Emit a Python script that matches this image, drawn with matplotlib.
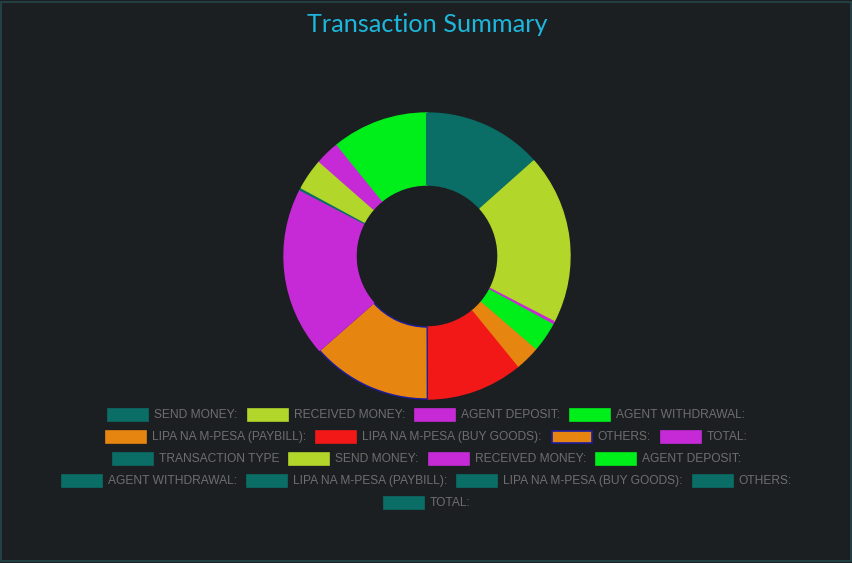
import matplotlib
matplotlib.use("Agg")
import matplotlib.pyplot as plt
from matplotlib.patches import Rectangle

# data (slice sizes, degrees-ish)
labels = ["SEND MONEY:", "RECEIVED MONEY:", "AGENT DEPOSIT:", "AGENT WITHDRAWAL:",
          "LIPA NA M-PESA (PAYBILL):", "LIPA NA M-PESA (BUY GOODS):", "OTHERS:", "TOTAL:",
          "TRANSACTION TYPE", "SEND MONEY:", "RECEIVED MONEY:", "AGENT DEPOSIT:",
          "AGENT WITHDRAWAL:", "LIPA NA M-PESA (PAYBILL):", "LIPA NA M-PESA (BUY GOODS):",
          "OTHERS:", "TOTAL:"]
values = [48.3, 68.9, 1.3, 12.2, 10.0, 39.0, 48.8, 68.7, 1.0, 12.8, 9.8, 38.9,
          0, 0, 0, 0, 0]

teal, yg, mag, grn, org, red = "#0a6e66", "#b2d62a", "#c62ad6", "#00ee1a", "#e68510", "#f21818"
colors = [teal, yg, mag, grn, org, red, org, mag,
          teal, yg, mag, grn, teal, teal, teal, teal, teal]
edges = list(colors)
edges[6] = "#1c1ca0"

bg = "#1c1f22"
W, H = 853, 563
fig = plt.figure(figsize=(W / 100, H / 100), dpi=100, facecolor=bg)
ax = fig.add_axes([0, 0, 1, 1])
ax.set_facecolor(bg)

cx, cy, R = 427, H - 256, 143
ax.pie(values, colors=colors, startangle=90, counterclock=False,
       center=(cx, cy), radius=R,
       wedgeprops=dict(width=72, linewidth=1, edgecolor=None))
for w, e in zip(ax.patches, edges):
    w.set_edgecolor(e)
ax.set_xlim(0, W)
ax.set_ylim(0, H)
ax.set_aspect("auto")
ax.axis("off")

# frame
ax.add_patch(Rectangle((1.5, 2.5), W - 3, H - 4, fill=False, edgecolor="#24474c", lw=1.2))

ax.text(cx, H - 25, "Transaction Summary", color="#1db7dc", fontsize=18.2,
        family="Lato", ha="center", va="center")

# legend, rows centred like the chart library does
rows = [[0, 1, 2, 3], [4, 5, 6, 7], [8, 9, 10, 11], [12, 13, 14, 15], [16]]
row_y = [415, 437, 459, 481, 503]
box_w, box_h, pad, gap = 40, 12, 6, 10
r = fig.canvas.get_renderer()
for idxs, yy in zip(rows, row_y):
    texts = []
    for i in idxs:
        t = ax.text(0, H - yy, labels[i], color="#6e6e6e", fontsize=8.65,
                    family="Liberation Sans", ha="left", va="center")
        texts.append(t)
    widths = [t.get_window_extent(renderer=r).width for t in texts]
    total = sum(box_w + pad + w for w in widths) + gap * (len(idxs) - 1)
    x = cx - total / 2
    for i, t, w in zip(idxs, texts, widths):
        ax.add_patch(Rectangle((x, H - yy - box_h / 2), box_w, box_h,
                               facecolor=colors[i], edgecolor=edges[i], lw=1.2))
        t.set_x(x + box_w + pad)
        x += box_w + pad + w + gap

fig.savefig("out.png", dpi=100, facecolor=bg)
